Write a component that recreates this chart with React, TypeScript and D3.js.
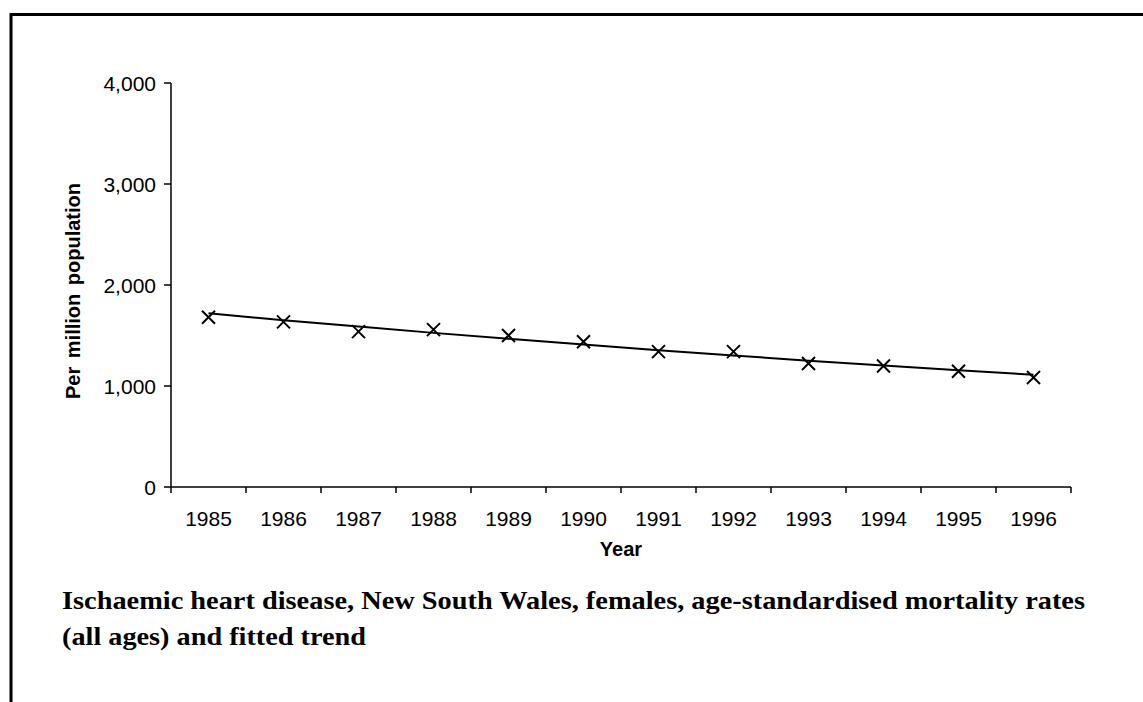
import React from "react";
import * as d3 from "d3";

const years = ["1985","1986","1987","1988","1989","1990","1991","1992","1993","1994","1995","1996"];
const rates = [1680, 1635, 1538, 1558, 1500, 1438, 1340, 1340, 1222, 1198, 1146, 1084];
const trend = [1720, 1652, 1588, 1526, 1467, 1410, 1355, 1302, 1251, 1203, 1156, 1111];
const yTicks = [0, 1000, 2000, 3000, 4000];
const titleLines = [
  "Ischaemic heart disease, New South Wales, females, age-standardised mortality rates",
  "(all ages) and fitted trend",
];

const W = 1143, H = 702;
const left = 171, right = 1071, top = 83, bottom = 487;

export default function App() {
  const x = d3.scaleBand<string>().domain(years).range([left, right]).padding(0);
  const y = d3.scaleLinear().domain([0, 4000]).range([bottom, top]);
  const cx = (yr: string) => (x(yr) as number) + x.bandwidth() / 2;
  const line = d3.line<number>().x((_, i) => cx(years[i])).y((v) => y(v));
  const fmt = d3.format(",");
  const sans = "'Liberation Sans', Arial, sans-serif";
  const serif = "'Liberation Serif', 'Times New Roman', serif";
  const bounds = [...years.map((yr) => x(yr) as number), right];
  return (
    <svg width={W} height={H} style={{ position: "absolute", left: 0, top: 0, background: "#fff" }}>
      <rect x={0} y={0} width={W} height={H} fill="#fff" />
      <path d={`M11,${H + 5}V14.5H${W + 5}`} fill="none" stroke="#000" strokeWidth={3} />
      {/* y axis */}
      <line x1={left} x2={left} y1={top} y2={bottom} stroke="#000" strokeWidth={1.5} />
      {yTicks.map((t) => (
        <g key={t}>
          <line x1={left - 7} x2={left} y1={y(t)} y2={y(t)} stroke="#000" strokeWidth={1.5} />
          <text x={left - 15} y={y(t)} dy="0.36em" textAnchor="end" fontFamily={sans} fontSize={21}>{fmt(t)}</text>
        </g>
      ))}
      {/* x axis */}
      <line x1={left} x2={right} y1={bottom} y2={bottom} stroke="#000" strokeWidth={1.5} />
      {bounds.map((b, i) => (
        <line key={i} x1={b} x2={b} y1={bottom} y2={bottom + 6} stroke="#000" strokeWidth={1.5} />
      ))}
      {years.map((yr) => (
        <text key={yr} x={cx(yr)} y={526} textAnchor="middle" fontFamily={sans} fontSize={21}>{yr}</text>
      ))}
      <text x={(left + right) / 2} y={556} textAnchor="middle" fontFamily={sans} fontSize={20} fontWeight="bold">Year</text>
      <text transform={`translate(73,291) rotate(-90)`} textAnchor="middle" dy="0.35em" fontFamily={sans} fontSize={20} fontWeight="bold" wordSpacing={3}>Per million population</text>
      {/* trend */}
      <path d={line(trend) || ""} fill="none" stroke="#000" strokeWidth={2} />
      {/* markers */}
      {rates.map((v, i) => {
        const px = cx(years[i]), py = y(v), s = 6.5;
        return (
          <path key={i} d={`M${px - s},${py - s}L${px + s},${py + s}M${px - s},${py + s}L${px + s},${py - s}`} stroke="#000" strokeWidth={2} fill="none" />
        );
      })}
      {/* title */}
      <text x={62} y={609} fontFamily={serif} fontSize={26} fontWeight="bold" textLength={1023} lengthAdjust="spacingAndGlyphs">{titleLines[0]}</text>
      <text x={62} y={645} fontFamily={serif} fontSize={26} fontWeight="bold" textLength={304} lengthAdjust="spacingAndGlyphs">{titleLines[1]}</text>
    </svg>
  );
}
